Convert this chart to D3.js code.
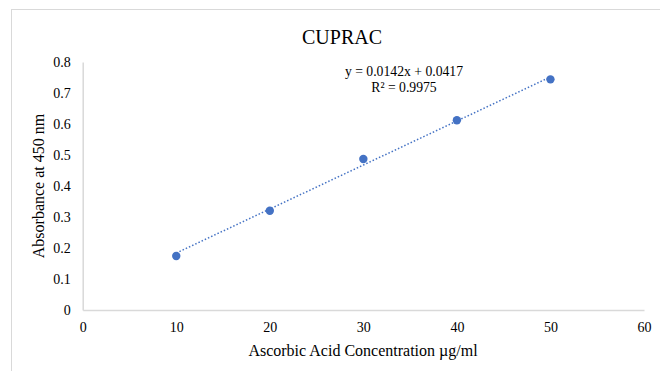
<!DOCTYPE html>
<html><head><meta charset="utf-8">
<script src="https://cdn.jsdelivr.net/npm/d3@7"></script>
<style>body{margin:0;background:#fff}svg{display:block}text{font-family:"Liberation Serif","Times New Roman",serif;fill:#000}</style>
</head><body>
<script>
const concentrations = [10, 20, 30, 40, 50];
const absorbance = [0.174, 0.320, 0.487, 0.612, 0.744];
const xTicks = [0, 10, 20, 30, 40, 50, 60];
const yTicks = [0, 0.1, 0.2, 0.3, 0.4, 0.5, 0.6, 0.7, 0.8];
const trendSlope = [0.0142];
const trendIntercept = [0.0417];
const trendRange = [10, 50];
const equationLines = ["y = 0.0142x + 0.0417", "R² = 0.9975"];
const chartTitle = "CUPRAC";
const xTitle = "Ascorbic Acid Concentration µg/ml";
const yTitle = "Absorbance at 450 nm";

const W = 660, H = 371;
const svg = d3.select("body").append("svg").attr("width", W).attr("height", H);
svg.append("rect").attr("x", 11.5).attr("y", 9.5).attr("width", 700).attr("height", 400)
  .attr("fill", "#fff").attr("stroke", "#d9d9d9").attr("stroke-width", 1);

const x = d3.scaleLinear().domain([0, 60]).range([82.7, 644]);
const y = d3.scaleLinear().domain([0, 0.8]).range([310, 62]);

// axes
const xAxis = d3.axisBottom(x).tickValues(xTicks).tickSize(0).tickPadding(12).tickFormat(d3.format("d"));
const gx = svg.append("g").attr("transform", `translate(0,${y(0)})`).call(xAxis);
gx.select(".domain").attr("stroke", "#d9d9d9").attr("stroke-width", 1.5);
gx.selectAll("text").attr("font-size", 14).attr("font-family", "Liberation Serif");

const yAxis = d3.axisLeft(y).tickValues(yTicks).tickSize(0).tickPadding(12).tickFormat(d => d === 0 ? "0" : d3.format(".1f")(d));
const gy = svg.append("g").attr("transform", `translate(${x(0)},0)`).call(yAxis);
gy.select(".domain").attr("stroke", "#d9d9d9").attr("stroke-width", 1.5);
gy.selectAll("text").attr("font-size", 14).attr("font-family", "Liberation Serif");

// trendline
const tl = trendRange.map(v => [v, trendSlope[0] * v + trendIntercept[0]]);
svg.append("path").datum(tl)
  .attr("d", d3.line().x(d => x(d[0])).y(d => y(d[1])))
  .attr("stroke", "#4472C4").attr("stroke-width", 1.5).attr("stroke-dasharray", "1.5,2")
  .attr("fill", "none");

// points
svg.append("g").selectAll("circle").data(concentrations).join("circle")
  .attr("cx", d => x(d)).attr("cy", (d, i) => y(absorbance[i])).attr("r", 4.2)
  .attr("fill", "#4472C4");

// title
svg.append("text").attr("x", 342).attr("y", 44).attr("text-anchor", "middle")
  .attr("font-size", 20).text(chartTitle);

// equation
svg.selectAll(".eq").data(equationLines).join("text").attr("class", "eq")
  .attr("x", 404).attr("y", (d, i) => 76 + i * 16).attr("text-anchor", "middle")
  .attr("font-size", 13.7).text(d => d);

// axis titles
svg.append("text").attr("x", 363).attr("y", 356).attr("text-anchor", "middle")
  .attr("font-size", 16).text(xTitle);
svg.append("text").attr("transform", "translate(44,186) rotate(-90)").attr("text-anchor", "middle")
  .attr("font-size", 16).text(yTitle);
</script>
</body></html>
